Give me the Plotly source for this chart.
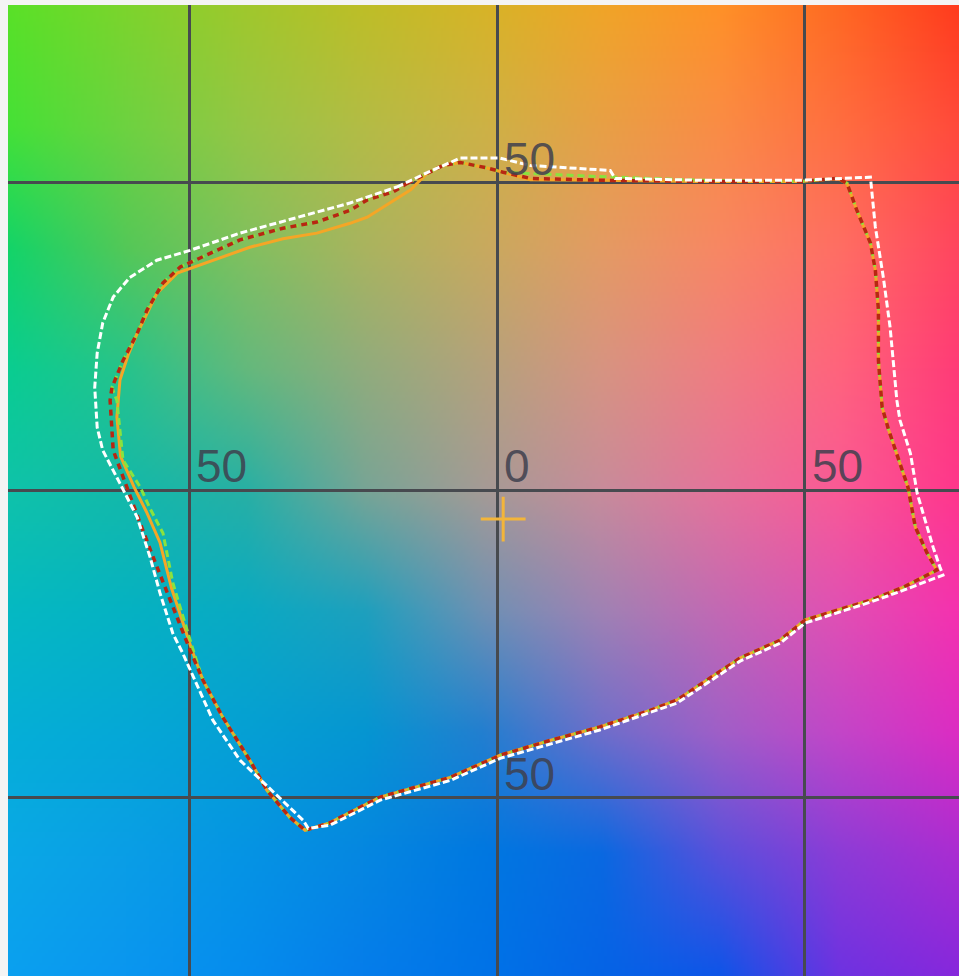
import numpy as np
import zlib, struct, base64
import plotly.graph_objects as go

# ---------------- data (a*, b*) ----------------
white_a = [-16.3, -11.0, -6.0, 0.5, 5.4, 18.4, 19.2, 33.0, 49.3, 60.7, 61.5, 62.8, 63.9, 65.0, 65.5,
           67.2, 68.3, 70.9, 72.0, 72.5, 66.0, 60.7, 50.1, 46.0, 39.5, 29.3, 16.7, 0.5, -7.6, -19.0,
           -27.2, -30.7, -31.5, -35.8, -41.8, -46.2, -51.1, -52.7, -54.8, -56.4, -58.5, -61.3, -64.1,
           -65.0, -65.4, -65.0, -64.1, -62.4, -59.7, -55.3, -49.9, -41.8, -29.3, -23.9, -16.3]
white_b = [49.3, 51.8, 54.0, 54.0, 52.8, 52.0, 50.7, 50.4, 50.4, 50.9, 42.8, 34.6, 26.5, 14.6, 11.4,
           6.0, -0.5, -9.3, -12.5, -13.8, -16.3, -18.2, -21.6, -24.9, -27.8, -34.6, -39.0, -43.6, -47.2,
           -50.4, -54.5, -55.0, -53.7, -49.6, -43.9, -37.4, -26.5, -23.3, -16.7, -10.9, -4.4, 1.1, 6.5,
           10.2, 16.7, 22.3, 27.2, 31.4, 34.6, 37.4, 39.0, 41.8, 45.2, 46.7, 49.3]

red_a = [-14.6, -11.4, -8.8, -6.0, -1.6, 1.0, 5.4, 16.7, 33.0, 49.3, 55.4, 56.9, 58.5, 60.7, 61.5,
         62.0, 62.0, 62.6, 63.6, 66.8, 68.0, 69.9, 71.5, 66.0, 60.7, 55.3, 50.1, 46.0, 39.5, 29.3,
         24.9, 16.7, 8.6, 0.5, -7.6, -19.0, -27.2, -31.2, -33.7, -37.4, -40.2, -44.6, -47.8, -49.9,
         -53.2, -55.9, -58.0, -60.2, -62.4, -62.9, -62.6, -60.8, -58.5, -56.9, -54.3, -51.5, -41.8,
         -34.8, -29.3, -23.9, -21.1, -16.9, -14.6]
red_b = [49.9, 51.5, 52.8, 53.3, 52.4, 51.7, 50.7, 50.4, 50.2, 50.2, 50.7, 49.9, 45.5, 40.2, 35.8,
         29.3, 21.1, 13.5, 10.0, 0.5, -6.0, -10.2, -13.0, -15.8, -17.9, -19.5, -21.1, -24.4, -27.3,
         -34.1, -35.8, -38.5, -40.7, -43.1, -46.7, -49.9, -54.1, -55.3, -53.2, -48.8, -43.9, -36.9,
         -30.9, -26.0, -17.9, -10.9, -5.4, 0.5, 6.5, 14.6, 16.7, 21.1, 25.5, 29.3, 33.7, 36.3, 40.7,
         42.6, 43.6, 45.5, 47.2, 48.5, 49.9]

green_a = [-14.6, -11.4, -8.8, -6.0, -1.6, 1.0, 5.4, 16.7, 33.0, 49.3, 55.4, 56.9, 58.5, 60.7, 61.5,
           62.0, 62.0, 62.6, 63.6, 66.8, 68.0, 69.9, 71.5, 66.0, 60.7, 55.3, 50.1, 46.0, 39.5, 29.3,
           24.9, 16.7, 8.6, 0.5, -7.6, -19.0, -27.2, -31.2, -33.7, -37.4, -40.2, -44.6, -47.8, -49.4,
           -52.7, -54.3, -56.4, -58.0, -60.8, -61.8, -62.6, -60.8, -58.5, -56.9, -54.3, -51.5, -41.8,
           -34.8, -29.3, -23.9, -21.1, -16.9, -14.6]
green_b = [49.9, 51.5, 52.8, 53.3, 52.4, 51.7, 51.5, 51.0, 50.4, 50.2, 50.7, 49.9, 45.5, 40.2, 35.8,
           29.3, 21.1, 13.5, 10.0, 0.5, -6.0, -10.2, -13.0, -15.8, -17.9, -19.5, -21.1, -24.4, -27.3,
           -34.1, -35.8, -38.5, -40.7, -43.1, -46.7, -49.9, -54.1, -55.3, -53.2, -48.8, -43.9, -36.9,
           -30.9, -26.0, -15.1, -7.0, -3.0, 0.5, 4.9, 14.6, 16.7, 21.1, 25.5, 29.3, 33.7, 36.3, 40.7,
           42.6, 43.6, 45.5, 47.2, 48.5, 49.9]

orange_a = [-14.1, -11.4, -8.8, -6.0, -1.6, 1.0, 5.4, 16.7, 33.0, 49.3, 55.4, 56.9, 58.5, 60.7, 61.5,
            62.0, 62.0, 62.6, 63.6, 66.8, 68.0, 69.9, 71.5, 66.0, 60.7, 55.3, 50.1, 46.0, 39.5, 29.3,
            24.9, 16.7, 8.6, 0.5, -7.6, -19.0, -27.2, -31.2, -33.7, -37.4, -40.2, -44.6, -47.8, -49.6,
            -52.9, -54.8, -57.0, -59.0, -61.2, -61.8, -61.3, -60.0, -58.5, -57.0, -55.3, -52.0, -40.2,
            -34.8, -29.3, -23.9, -21.1, -14.1]
orange_b = [48.8, 51.5, 52.8, 53.3, 52.4, 51.7, 50.5, 50.4, 50.2, 50.2, 50.7, 49.9, 45.5, 40.2, 35.8,
            29.3, 21.1, 13.5, 10.0, 0.5, -6.0, -10.2, -13.0, -15.8, -17.9, -19.5, -21.1, -24.4, -27.3,
            -34.1, -35.8, -38.5, -40.7, -43.1, -46.7, -49.9, -54.1, -55.3, -53.2, -48.8, -43.9, -36.9,
            -30.9, -26.0, -16.0, -8.5, -3.5, 0.5, 5.5, 11.9, 17.9, 21.9, 25.5, 28.5, 32.0, 35.3, 39.5,
            40.9, 41.8, 43.4, 44.4, 48.8]

white_point = (1.0, -4.7)

label_pos_a = [-50, 0, 50, 0, 0]
label_pos_b = [0, 0, 0, 50, -50]
label_text = ["50", "0", "50", "50", "50"]

grid_ticks = [-50, 0, 50]
x_range = [-79.5, 75.1]
y_range = [-79.0, 78.9]

# background colour samples (9 x 9, top row first, left to right)
bg_rows = [
    [(90, 225, 40), (125, 212, 45), (160, 200, 45), (190, 190, 40), (215, 180, 40), (240, 165, 40), (255, 145, 40), (255, 105, 35), (255, 60, 30)],
    [(70, 225, 55), (110, 210, 65), (150, 198, 70), (180, 188, 70), (205, 178, 70), (232, 160, 70), (250, 140, 70), (255, 110, 65), (255, 75, 60)],
    [(20, 212, 105), (85, 200, 88), (130, 192, 95), (170, 180, 95), (200, 170, 95), (228, 155, 100), (248, 135, 100), (255, 110, 100), (255, 70, 95)],
    [(10, 205, 145), (40, 195, 140), (100, 185, 125), (145, 172, 125), (180, 162, 125), (215, 148, 130), (240, 125, 130), (255, 100, 125), (255, 60, 120)],
    [(15, 195, 170), (20, 185, 170), (40, 176, 165), (120, 165, 150), (165, 155, 150), (200, 140, 155), (230, 115, 155), (250, 90, 150), (255, 55, 140)],
    [(5, 185, 195), (5, 178, 195), (10, 170, 195), (30, 160, 190), (110, 145, 180), (160, 130, 180), (195, 105, 180), (225, 80, 180), (245, 50, 175)],
    [(5, 175, 215), (5, 168, 215), (5, 160, 212), (5, 150, 210), (35, 127, 208), (110, 110, 203), (160, 95, 200), (195, 70, 200), (220, 45, 195)],
    [(10, 168, 230), (10, 158, 230), (5, 148, 228), (5, 135, 225), (0, 120, 225), (10, 105, 225), (90, 80, 220), (140, 60, 215), (170, 45, 210)],
    [(10, 160, 240), (10, 150, 240), (5, 140, 238), (5, 125, 235), (0, 115, 232), (5, 100, 230), (15, 85, 232), (110, 50, 225), (135, 40, 220)],
]


def background_png(rows, n=320):
    g = np.array(rows, dtype=float)  # (9, 9, 3)
    k = g.shape[0]
    t = np.linspace(0, k - 1, n)
    i0 = np.clip(np.floor(t).astype(int), 0, k - 2)
    f = t - i0
    rows_i = g[i0] * (1 - f)[:, None, None] + g[i0 + 1] * f[:, None, None]
    img = rows_i[:, i0] * (1 - f)[None, :, None] + rows_i[:, i0 + 1] * f[None, :, None]
    img = np.clip(img, 0, 255).astype(np.uint8)
    raw = b"".join(b"\x00" + img[r].tobytes() for r in range(n))

    def chunk(tag, data):
        c = struct.pack(">I", len(data)) + tag + data
        return c + struct.pack(">I", zlib.crc32(tag + data) & 0xFFFFFFFF)

    png = b"\x89PNG\r\n\x1a\n"
    png += chunk(b"IHDR", struct.pack(">IIBBBBB", n, n, 8, 2, 0, 0, 0))
    png += chunk(b"IDAT", zlib.compress(raw, 9))
    png += chunk(b"IEND", b"")
    return "data:image/png;base64," + base64.b64encode(png).decode()


bg = background_png(bg_rows)

fig = go.Figure()

fig.add_trace(go.Scatter(x=orange_a, y=orange_b, mode="lines",
                         line=dict(color="#f5a626", width=3), hoverinfo="skip"))
fig.add_trace(go.Scatter(x=green_a, y=green_b, mode="lines",
                         line=dict(color="#8ae23e", width=3, dash="7px,4px"), hoverinfo="skip"))
fig.add_trace(go.Scatter(x=red_a, y=red_b, mode="lines",
                         line=dict(color="#b82612", width=3.5, dash="6px,5px"), hoverinfo="skip"))
fig.add_trace(go.Scatter(x=white_a, y=white_b, mode="lines",
                         line=dict(color="#ffffff", width=3, dash="7px,3px"), hoverinfo="skip"))
fig.add_trace(go.Scatter(x=[white_point[0]], y=[white_point[1]], mode="markers",
                         marker=dict(symbol="cross-thin", size=32,
                                     line=dict(color="#f3b53a", width=3)),
                         hoverinfo="skip"))

for xa, yb, t in zip(label_pos_a, label_pos_b, label_text):
    fig.add_annotation(x=xa, y=yb, text=t, showarrow=False, xanchor="left", yanchor="bottom",
                       xshift=5, yshift=-4,
                       font=dict(family="Liberation Sans", size=46, color="rgba(62,64,78,0.85)"))

fig.add_layout_image(dict(source=bg, xref="x", yref="y", x=x_range[0], y=y_range[1],
                          sizex=x_range[1] - x_range[0], sizey=y_range[1] - y_range[0],
                          sizing="stretch", layer="below", opacity=1))

axis_common = dict(showticklabels=False, ticks="", tickvals=grid_ticks, showgrid=True,
                   gridcolor="#474a4f", gridwidth=3, zeroline=True, zerolinecolor="#474a4f",
                   zerolinewidth=3, showline=False, fixedrange=True)
fig.update_xaxes(range=x_range, **axis_common)
fig.update_yaxes(range=y_range, **axis_common)

fig.update_layout(width=959, height=976, margin=dict(l=8, r=0, t=5, b=0),
                  paper_bgcolor="#f4f4f4", plot_bgcolor="#a0a0a0", showlegend=False)

fig.write_html("out.html", config={"displayModeBar": False},
               post_script="document.body.style.margin='0';document.body.style.overflow='hidden';")
